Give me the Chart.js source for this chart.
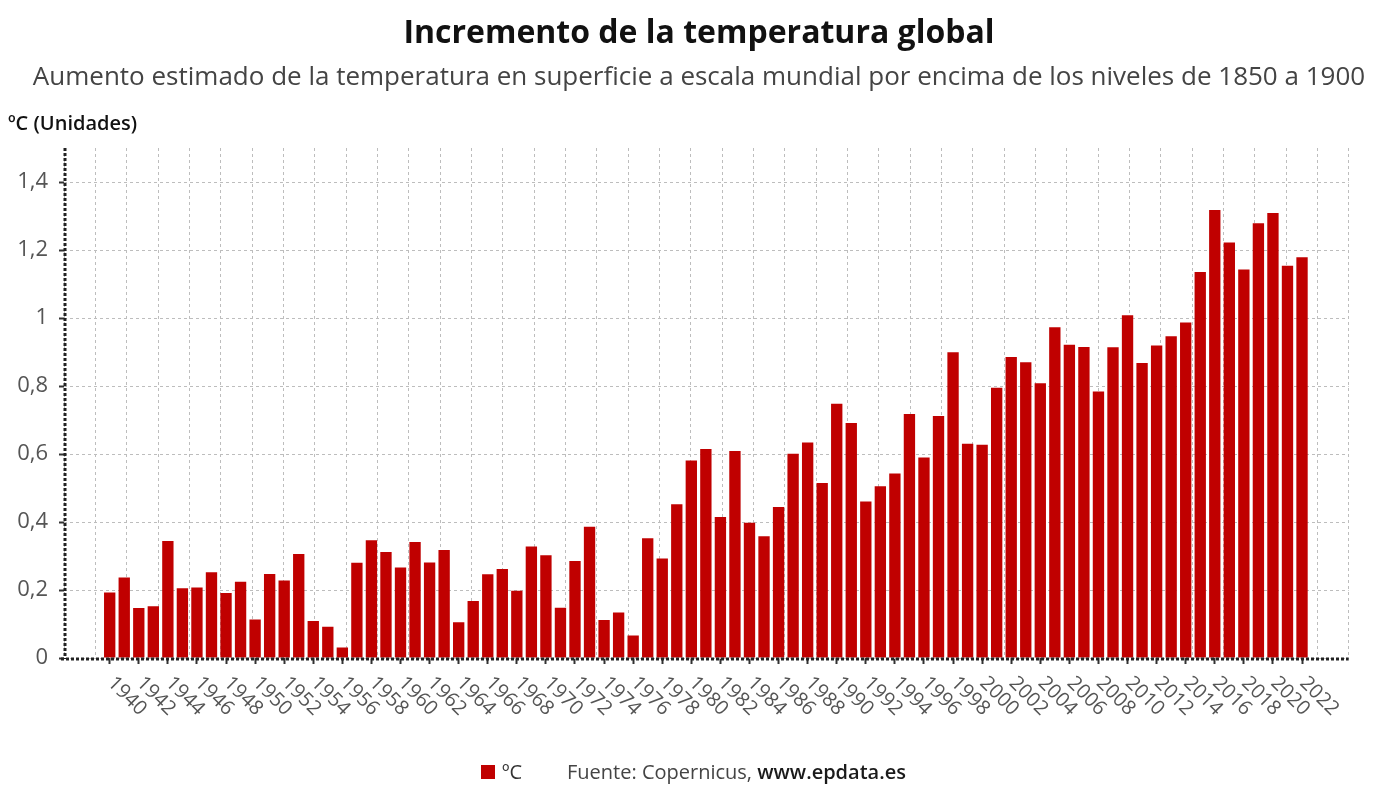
<!DOCTYPE html>
<html><head><meta charset="utf-8">
<script src="https://cdn.jsdelivr.net/npm/chart.js@4.4.1/dist/chart.umd.min.js"></script>
<style>html,body{margin:0;padding:0;background:#fff;overflow:hidden}#wrap{position:relative;width:1378px;height:792px}</style>
</head><body><div id="wrap"><canvas id="c" width="1378" height="792"></canvas></div>
<script>
const years = [1940,1941,1942,1943,1944,1945,1946,1947,1948,1949,1950,1951,1952,1953,1954,1955,1956,1957,1958,1959,1960,1961,1962,1963,1964,1965,1966,1967,1968,1969,1970,1971,1972,1973,1974,1975,1976,1977,1978,1979,1980,1981,1982,1983,1984,1985,1986,1987,1988,1989,1990,1991,1992,1993,1994,1995,1996,1997,1998,1999,2000,2001,2002,2003,2004,2005,2006,2007,2008,2009,2010,2011,2012,2013,2014,2015,2016,2017,2018,2019,2020,2021,2022];
const values = [0.193,0.237,0.147,0.152,0.344,0.205,0.207,0.252,0.191,0.224,0.113,0.247,0.228,0.306,0.109,0.092,0.031,0.280,0.346,0.312,0.266,0.341,0.281,0.318,0.105,0.168,0.246,0.262,0.198,0.328,0.302,0.148,0.285,0.386,0.112,0.134,0.066,0.352,0.293,0.452,0.581,0.615,0.415,0.609,0.398,0.358,0.444,0.601,0.634,0.515,0.748,0.691,0.460,0.505,0.543,0.718,0.590,0.712,0.899,0.630,0.627,0.795,0.885,0.870,0.808,0.973,0.921,0.915,0.784,0.914,1.008,0.868,0.919,0.946,0.987,1.135,1.318,1.222,1.143,1.279,1.309,1.154,1.179];
const xTickYears = [1940,1942,1944,1946,1948,1950,1952,1954,1956,1958,1960,1962,1964,1966,1968,1970,1972,1974,1976,1978,1980,1982,1984,1986,1988,1990,1992,1994,1996,1998,2000,2002,2004,2006,2008,2010,2012,2014,2016,2018,2020,2022];
const yTickValues = [0,0.2,0.4,0.6,0.8,1,1.2,1.4];
const titleText = 'Incremento de la temperatura global';
const subtitleText = 'Aumento estimado de la temperatura en superficie a escala mundial por encima de los niveles de 1850 a 1900';
const unitText = 'ºC (Unidades)';
const seriesName = 'ºC';
const sourceLabel = 'Fuente: Copernicus, ';
const sourceSite = 'www.epdata.es';

const BAR = '#c00000';
const FONT = '"Open Sans", "Noto Sans", sans-serif';

const decor = {
  id: 'decor',
  afterDatasetsDraw(chart) {
    const ctx = chart.ctx, a = chart.chartArea;
    ctx.save();
    ctx.strokeStyle = '#222';
    ctx.lineWidth = 3;
    ctx.setLineDash([3, 2]);
    ctx.beginPath();
    ctx.moveTo(a.left + 1, a.top);
    ctx.lineTo(a.left + 1, a.bottom + 1);
    ctx.stroke();
    ctx.beginPath();
    ctx.moveTo(a.left - 3, a.bottom + 1);
    ctx.lineTo(a.right, a.bottom + 1);
    ctx.stroke();
    ctx.restore();
  },
  afterDraw(chart) {
    const ctx = chart.ctx;
    const xs = chart.scales.x;
    ctx.save();
    ctx.font = '20px ' + FONT;
    ctx.fillStyle = '#555';
    ctx.textAlign = 'left';
    ctx.textBaseline = 'middle';
    xs.ticks.forEach(t => {
      const px = xs.getPixelForValue(t.value);
      ctx.save();
      ctx.translate(px + 1, 680);
      ctx.rotate(Math.PI / 4);
      ctx.fillText(String(t.value), 0, 0);
      ctx.restore();
    });
    ctx.textBaseline = 'alphabetic';
    ctx.textAlign = 'center';
    ctx.fillStyle = '#111';
    ctx.font = 'bold 32px ' + FONT;
    ctx.fillText(titleText, 699, 43);
    ctx.fillStyle = '#444';
    ctx.font = '26px ' + FONT;
    ctx.fillText(subtitleText, 699, 85);
    ctx.textAlign = 'left';
    ctx.fillStyle = '#111';
    ctx.font = '600 20px ' + FONT;
    ctx.fillText(unitText, 8, 130);
    ctx.fillStyle = BAR;
    ctx.fillRect(481, 765, 14, 14);
    ctx.fillStyle = '#333';
    ctx.font = '20px ' + FONT;
    ctx.fillText(seriesName, 502, 779);
    ctx.fillStyle = '#444';
    ctx.fillText(sourceLabel, 567, 779);
    const w = ctx.measureText(sourceLabel).width;
    ctx.fillStyle = '#1a1a1a';
    ctx.font = '600 20px ' + FONT;
    ctx.fillText(sourceSite, 567 + w, 779);
    ctx.restore();
  }
};

new Chart(document.getElementById('c'), {
  type: 'bar',
  data: {
    datasets: [{
      label: seriesName,
      data: years.map((y, i) => ({x: y, y: values[i]})),
      backgroundColor: BAR,
      borderWidth: 0,
      barPercentage: 0.78,
      categoryPercentage: 1
    }]
  },
  options: {
    responsive: false,
    devicePixelRatio: 1,
    animation: false,
    layout: {padding: {top: 148, right: 29.3, left: 0, bottom: 0}},
    plugins: {legend: {display: false}, title: {display: false}, tooltip: {enabled: false}},
    scales: {
      x: {
        type: 'linear', position: 'bottom', offset: false,
        min: 1936.857, max: 2025.21,
        afterBuildTicks: s => { s.ticks = xTickYears.map(v => ({value: v})); },
        afterFit: s => { s.height = 134; },
        ticks: {display: false},
        grid: {offset: false, drawOnChartArea: false, drawTicks: true, tickLength: 6, tickColor: '#333', tickWidth: 2},
        border: {display: false}
      },
      xg: {
        type: 'linear', position: 'top', min: 0, max: 41, offset: false,
        afterBuildTicks: s => { const t = []; for (let k = 0; k <= 41; k++) t.push({value: k}); s.ticks = t; },
        afterFit: s => { s.height = 0; },
        ticks: {display: false},
        grid: {offset: false, color: '#bdbdbd', lineWidth: 1, drawTicks: false},
        border: {display: false, dash: [3, 3]}
      },
      y: {
        min: 0, max: 1.5,
        afterBuildTicks: s => { s.ticks = yTickValues.map(v => ({value: v})); },
        afterFit: s => { s.width = 64; },
        ticks: {
          font: {family: FONT, size: 22}, color: '#555', padding: 11,
          callback: v => String(v).replace('.', ',')
        },
        grid: {color: '#bdbdbd', lineWidth: 1, drawTicks: true, tickLength: 5, tickColor: '#333', tickWidth: 2},
        border: {display: false, dash: [3, 3]}
      }
    }
  },
  plugins: [decor]
});
</script></body></html>
